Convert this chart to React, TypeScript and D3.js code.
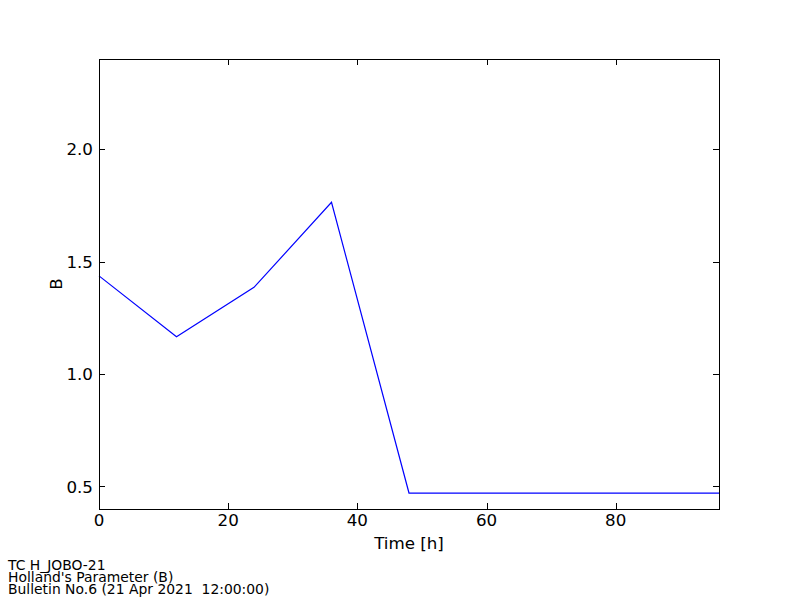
import React, { useRef, useEffect } from 'react';
import * as d3 from 'd3';

// time in hours and Holland's B parameter
const hours = [0, 12, 24, 36, 48, 60, 72, 84, 96];
const bValues = [1.436, 1.166, 1.385, 1.763, 0.471, 0.471, 0.471, 0.471, 0.471];
const xTicks = [0, 20, 40, 60, 80];
const yTicks = [0.5, 1.0, 1.5, 2.0];
const footerLines = [
  'TC H_JOBO-21',
  "Holland's Parameter (B)",
  'Bulletin No.6 (21 Apr 2021  12:00:00)',
];

function BChart() {
  const svgRef = useRef<SVGSVGElement | null>(null);

  useEffect(() => {
    const svg = d3.select(svgRef.current);
    svg.selectAll('*').remove();

    const width = 800;
    const height = 600;
    const margin = { top: 59, right: 81, bottom: 91, left: 99 };
    const font = 'DejaVu Sans, sans-serif';
    const labelSize = 16.7;

    svg.append('rect').attr('width', width).attr('height', height).attr('fill', '#fff');

    const x = d3.scaleLinear().domain([0, 96]).range([margin.left, width - margin.right]);
    const y = d3.scaleLinear().domain([0.4, 2.4]).range([height - margin.bottom, margin.top]);

    const x0 = margin.left, x1 = width - margin.right;
    const y0 = height - margin.bottom, y1 = margin.top;

    // the data line
    const line = d3.line<number>()
      .x((d, i) => x(hours[i]))
      .y(d => y(d));

    svg.append('path')
      .datum(bValues)
      .attr('d', line)
      .attr('fill', 'none')
      .attr('stroke', '#0000ff')
      .attr('stroke-width', 1.2);

    // ticks (inside, on all four sides)
    const tickLen = 6;
    const ticks = svg.append('g').attr('stroke', '#000').attr('stroke-width', 1);
    xTicks.forEach(t => {
      const px = Math.round(x(t)) + 0.5;
      ticks.append('line').attr('x1', px).attr('x2', px).attr('y1', y0).attr('y2', y0 - tickLen);
      ticks.append('line').attr('x1', px).attr('x2', px).attr('y1', y1).attr('y2', y1 + tickLen);
    });
    yTicks.forEach(t => {
      const py = Math.round(y(t)) + 0.5;
      ticks.append('line').attr('x1', x0).attr('x2', x0 + tickLen).attr('y1', py).attr('y2', py);
      ticks.append('line').attr('x1', x1).attr('x2', x1 - tickLen).attr('y1', py).attr('y2', py);
    });

    // frame
    svg.append('rect')
      .attr('x', x0 + 0.5).attr('y', y1 + 0.5)
      .attr('width', x1 - x0).attr('height', y0 - y1)
      .attr('fill', 'none').attr('stroke', '#000').attr('stroke-width', 1);

    // tick labels
    svg.append('g').selectAll('text')
      .data(xTicks)
      .enter().append('text')
      .attr('x', d => x(d))
      .attr('y', y0 + 17)
      .attr('text-anchor', 'middle')
      .attr('font-family', font)
      .attr('font-size', labelSize)
      .text(d => String(d));

    svg.append('g').selectAll('text')
      .data(yTicks)
      .enter().append('text')
      .attr('x', x0 - 6)
      .attr('y', d => y(d) + 6)
      .attr('text-anchor', 'end')
      .attr('font-family', font)
      .attr('font-size', labelSize)
      .text(d => d.toFixed(1));

    // axis titles
    svg.append('text')
      .attr('x', (x0 + x1) / 2)
      .attr('y', y0 + 40)
      .attr('text-anchor', 'middle')
      .attr('font-family', font)
      .attr('font-size', labelSize)
      .text('Time [h]');

    svg.append('text')
      .attr('transform', `translate(62, ${(y0 + y1) / 2}) rotate(-90)`)
      .attr('text-anchor', 'middle')
      .attr('font-family', font)
      .attr('font-size', labelSize)
      .text('B');

    // footer
    svg.append('g').selectAll('text')
      .data(footerLines)
      .enter().append('text')
      .attr('x', 8)
      .attr('y', (d, i) => 570 + i * 12)
      .attr('font-family', font)
      .attr('font-size', 13.9)
      .style('white-space', 'pre')
      .text(d => d);
  }, []);

  return <svg ref={svgRef} width={800} height={600} style={{ display: 'block' }} />;
}

export default function App() {
  return (
    <div style={{ position: 'absolute', left: 0, top: 0 }}>
      <BChart />
    </div>
  );
}
